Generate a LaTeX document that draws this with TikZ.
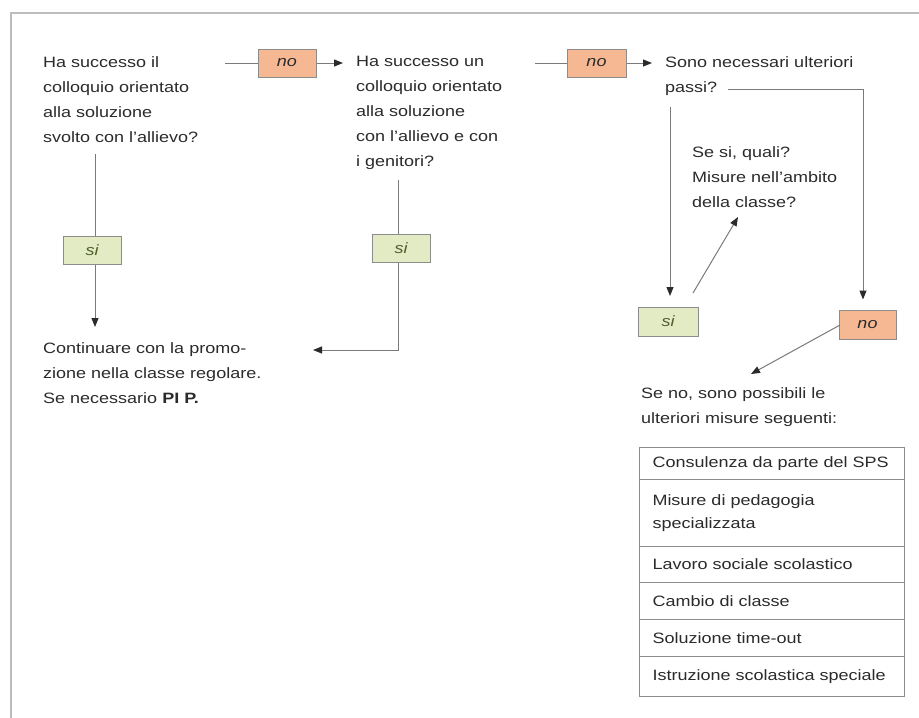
\documentclass[tikz,border=0pt]{standalone}
\usepackage{fontspec}
\setmainfont{Liberation Sans}[FakeStretch=1.2]
\usetikzlibrary{arrows.meta}
\definecolor{txtc}{HTML}{2B2B2B}
\definecolor{sitxt}{HTML}{4F5E2A}
\definecolor{salmon}{HTML}{F6B893}
\definecolor{pgreen}{HTML}{E3EBC5}
\definecolor{lnc}{HTML}{7A7A7A}
\definecolor{bxc}{HTML}{8C8C8C}
\definecolor{framec}{HTML}{BDBDBD}
\begin{document}
\begin{tikzpicture}[x=1pt,y=-1pt,
  txt/.style={anchor=north west, inner sep=0pt, align=left, text=txtc, font=\fontsize{15}{25}\selectfont},
  lab/.style={draw=bxc, line width=1pt, minimum height=28pt, minimum width=58pt, inner sep=0pt, font=\fontsize{15}{18}\selectfont\itshape},
  nobox/.style={lab, fill=salmon, text=txtc},
  sibox/.style={lab, fill=pgreen, text=sitxt},
  conn/.style={draw=lnc, line width=1pt},
  arr/.style={conn, -{Triangle[length=9pt,width=7pt,color=txtc]}},
  rowbox/.style={draw=bxc, line width=1pt, anchor=north west, text width=239pt, inner xsep=13pt, inner ysep=0pt, align=left, text=txtc, font=\fontsize{15}{23}\selectfont}
]
\useasboundingbox (0,0) rectangle (919,718);
% outer frame
\draw[framec, line width=2pt] (11,722) -- (11,13) -- (923,13);

% question texts
\node[txt] (q1) at (43,56) {Ha successo il\\colloquio orientato\\alla soluzione\\svolto con l'allievo?};
\node[txt] (q2) at (356,56) {Ha successo un\\colloquio orientato\\alla soluzione\\con l'allievo e con\\i genitori?};
\node[txt] (q3) at (665,56) {Sono necessari ulteriori\\passi?};
\node[txt] (cont) at (43,342) {Continuare con la promo-\\zione nella classe regolare.\\Se necessario \textbf{PI P.}};
\node[txt] (ss) at (692,146) {Se si, quali?\\Misure nell'ambito\\della classe?};
\node[txt] (sn) at (641,387) {Se no, sono possibili le\\ulteriori misure seguenti:};

% yes / no boxes
\node[nobox] (no1) at (287,63) {no};
\node[nobox, minimum width=59pt] (no2) at (596.5,63) {no};
\node[nobox, minimum height=29pt, minimum width=57pt] (no3) at (867.5,324.5) {no};
\node[sibox] (si1) at (92,250) {si};
\node[sibox] (si2) at (401,248) {si};
\node[sibox, minimum width=60pt, minimum height=29pt] (si3) at (668,321.5) {si};

% table of measures
\node[rowbox, minimum height=32pt] (r1) at (639,447) {Consulenza da parte del SPS};
\node[rowbox, minimum height=67pt] (r2) at (639,479) {Misure di pedagogia\\specializzata};
\node[rowbox, minimum height=36pt] (r3) at (639,546) {Lavoro sociale scolastico};
\node[rowbox, minimum height=37pt] (r4) at (639,582) {Cambio di classe};
\node[rowbox, minimum height=37pt] (r5) at (639,619) {Soluzione time-out};
\node[rowbox, minimum height=40pt] (r6) at (639,656) {Istruzione scolastica speciale};

% free ends of connectors
\coordinate (s1) at (225,63);
\coordinate (s2) at (535,63);
\coordinate (q1b) at (95,154);
\coordinate (e1) at (95,327);
\coordinate (q2b) at (398,180);
\coordinate (k2) at (398,350);
\coordinate (e2) at (313,350);
\coordinate (q3r) at (728,89);
\coordinate (k3) at (863,89);
\coordinate (q3b) at (670,107);
\coordinate (e3) at (670,296);
\coordinate (si3s) at (693,293);
\coordinate (e4) at (738,217);
\coordinate (no3s) at (840,325);
\coordinate (e5) at (751,374);

% connectors
\draw[conn] (s1) -- (no1.west);
\draw[arr] (no1.east) -- ([xshift=-13pt]no1.east -| q2.west);
\draw[conn] (s2) -- (no2.west);
\draw[arr] (no2.east) -- ([xshift=-13pt]no2.east -| q3.west);
\draw[conn] (q1b) -- (si1.north -| q1b);
\draw[arr] (si1.south -| q1b) -- (e1);
\draw[conn] (q2b) -- (si2.north -| q2b);
\draw[arr] (si2.south -| q2b) -- (k2) -- (e2);
\draw[arr] (q3r) -- (k3) -- ([yshift=10pt]no3.north -| k3);
\draw[arr] (q3b) -- (e3);
\draw[arr] (si3s) -- (e4);
\draw[arr] (no3s) -- (e5);
\end{tikzpicture}
\end{document}
